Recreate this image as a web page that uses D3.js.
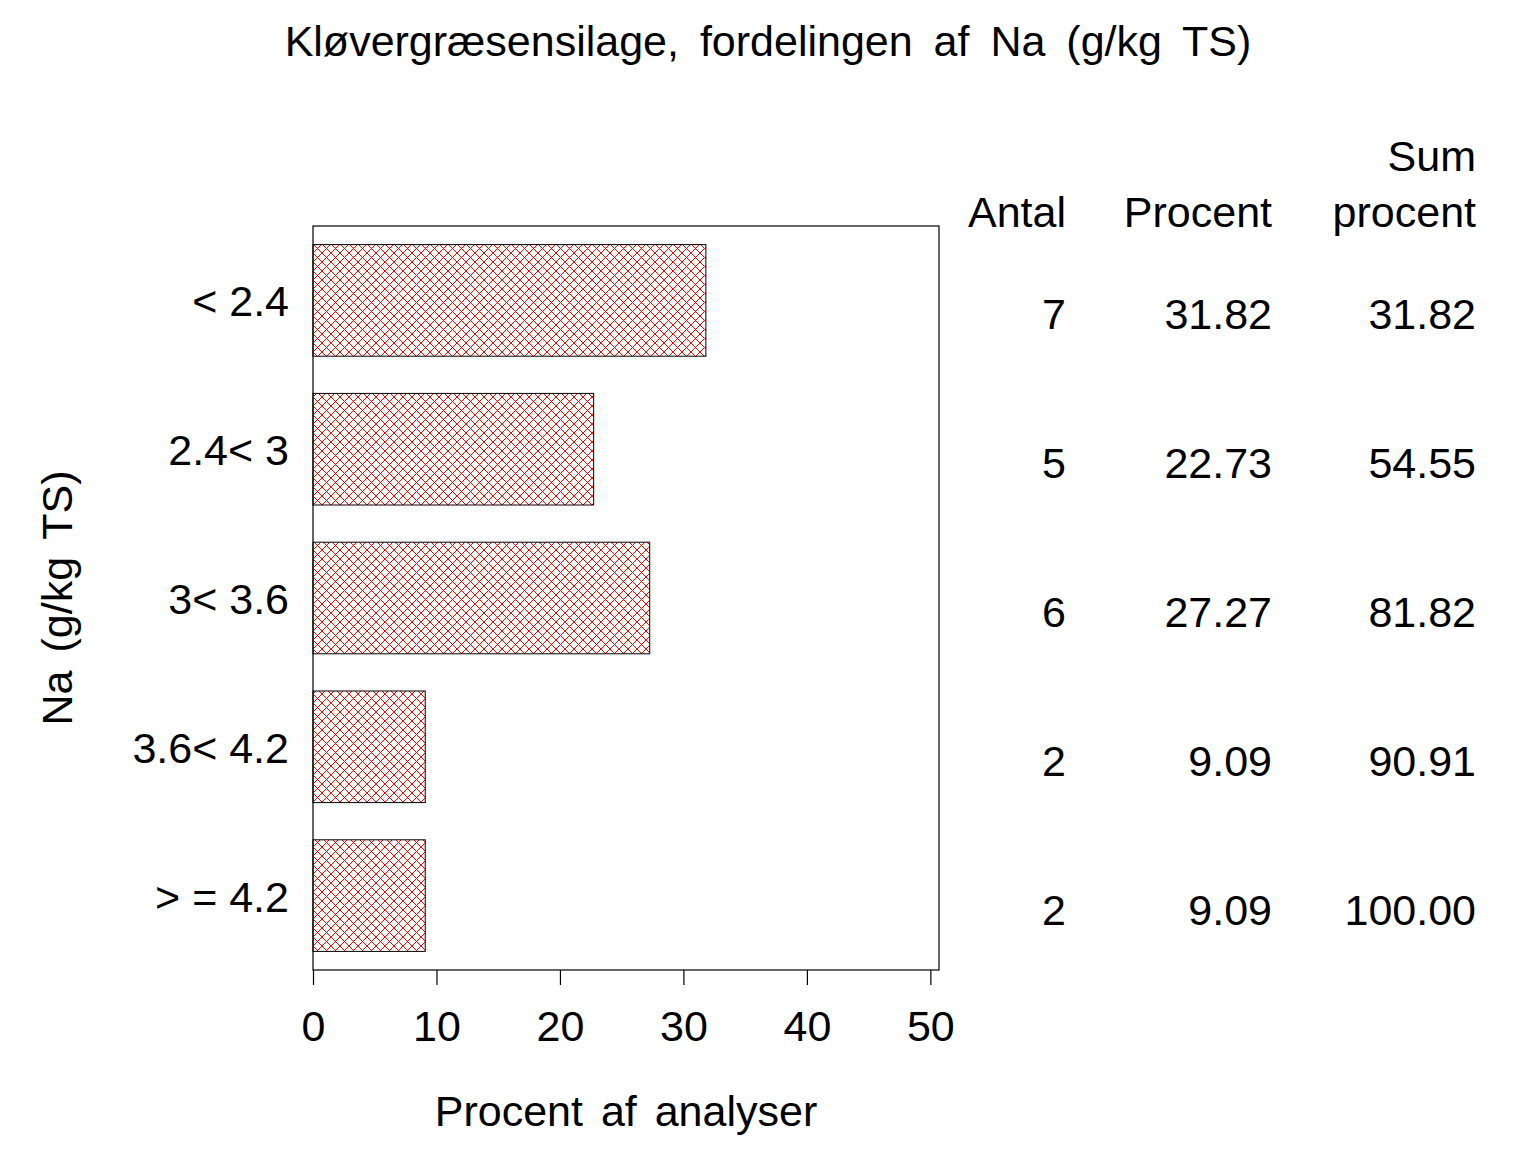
<!DOCTYPE html>
<html>
<head>
<meta charset="utf-8">
<script src="https://cdn.jsdelivr.net/npm/d3@7"></script>
<style>
  body { margin: 0; background: #fff; }
  text { font-family: "Liberation Sans", Arial, sans-serif; fill: #000; }
</style>
</head>
<body>
<div id="chart"></div>
<script>
// data
var categories = ["< 2.4", "2.4< 3", "3< 3.6", "3.6< 4.2", "> = 4.2"];
var antal = [7, 5, 6, 2, 2];
var procent = [31.82, 22.73, 27.27, 9.09, 9.09];
var sumProcent = [31.82, 54.55, 81.82, 90.91, 100.0];
var xTicks = [0, 10, 20, 30, 40, 50];

var width = 1536, height = 1152;
var margin = { top: 226, right: 597, bottom: 182, left: 313 };
var plotW = width - margin.left - margin.right;
var plotH = height - margin.top - margin.bottom;
var fontSize = 43;

var svg = d3.select("#chart")
  .append("svg")
  .attr("width", width)
  .attr("height", height);

// red cross hatch fill
var defs = svg.append("defs");
var pat = defs.append("pattern")
  .attr("id", "hatch")
  .attr("patternUnits", "userSpaceOnUse")
  .attr("width", 9)
  .attr("height", 9);
pat.append("path")
  .attr("d", "M0,0L9,9M0,9L9,0M-1,8L1,10M8,-1L10,1")
  .attr("stroke", "#ff0000")
  .attr("stroke-width", 1)
  .attr("fill", "none");

var x = d3.scaleLinear().domain([0, 50.7]).range([0, plotW]);
var y = d3.scaleBand().domain(categories).range([0, plotH]).paddingInner(0.25).paddingOuter(0.125);

var g = svg.append("g").attr("transform", "translate(" + margin.left + "," + margin.top + ")");

// frame
g.append("rect")
  .attr("x", 0).attr("y", 0)
  .attr("width", plotW).attr("height", plotH)
  .attr("fill", "none").attr("stroke", "#000").attr("stroke-width", 1.2);

// bars
g.selectAll(".bar")
  .data(procent)
  .enter()
  .append("rect")
  .attr("class", "bar")
  .attr("x", 0)
  .attr("y", function (d, i) { return y(categories[i]); })
  .attr("width", function (d) { return x(d); })
  .attr("height", y.bandwidth())
  .attr("fill", "url(#hatch)")
  .attr("stroke", "#000")
  .attr("stroke-width", 1);

// x axis
var xAxis = d3.axisBottom(x).tickValues(xTicks).tickSize(15).tickPadding(25).tickFormat(d3.format("d"));
var xg = g.append("g").attr("transform", "translate(0," + plotH + ")").call(xAxis);
xg.select(".domain").remove();
xg.selectAll(".tick line").attr("stroke", "#000").attr("stroke-width", 1.2);
xg.selectAll(".tick text")
  .attr("font-size", fontSize)
  .attr("font-family", "Liberation Sans, Arial, sans-serif")
  .attr("dy", "0.71em");

// y category labels
g.selectAll(".ylab")
  .data(categories)
  .enter()
  .append("text")
  .attr("class", "ylab")
  .attr("x", -24)
  .attr("y", function (d) { return y(d) + y.bandwidth() / 2 + 16; })
  .attr("text-anchor", "end")
  .attr("font-size", fontSize)
  .text(function (d) { return d; });

// axis titles
svg.append("text")
  .attr("x", margin.left + plotW / 2)
  .attr("y", 1126)
  .attr("text-anchor", "middle")
  .attr("font-size", fontSize)
  .attr("word-spacing", 6)
  .text("Procent af analyser");

svg.append("text")
  .attr("transform", "translate(72," + (margin.top + plotH / 2) + ") rotate(-90)")
  .attr("text-anchor", "middle")
  .attr("font-size", fontSize)
  .attr("word-spacing", 6)
  .text("Na (g/kg TS)");

svg.append("text")
  .attr("x", 768)
  .attr("y", 56)
  .attr("text-anchor", "middle")
  .attr("font-size", fontSize)
  .attr("word-spacing", 9)
  .text("Kløvergræsensilage, fordelingen af Na (g/kg TS)");

// table on the right
var colX = [1066, 1272, 1476];
var columns = [
  antal.map(function (d) { return String(d); }),
  procent.map(function (d) { return d.toFixed(2); }),
  sumProcent.map(function (d) { return d.toFixed(2); })
];
var headers = [["", "Antal"], ["", "Procent"], ["Sum", "procent"]];

headers.forEach(function (h, c) {
  h.forEach(function (line, r) {
    if (!line) return;
    svg.append("text")
      .attr("x", colX[c])
      .attr("y", 171 + r * 56)
      .attr("text-anchor", "end")
      .attr("font-size", fontSize)
      .text(line);
  });
});

columns.forEach(function (vals, c) {
  svg.selectAll(".col" + c)
    .data(vals)
    .enter()
    .append("text")
    .attr("class", "col" + c)
    .attr("x", colX[c])
    .attr("y", function (d, i) { return margin.top + y(categories[i]) + y.bandwidth() / 2 + 29; })
    .attr("text-anchor", "end")
    .attr("font-size", fontSize)
    .text(function (d) { return d; });
});
</script>
</body>
</html>
